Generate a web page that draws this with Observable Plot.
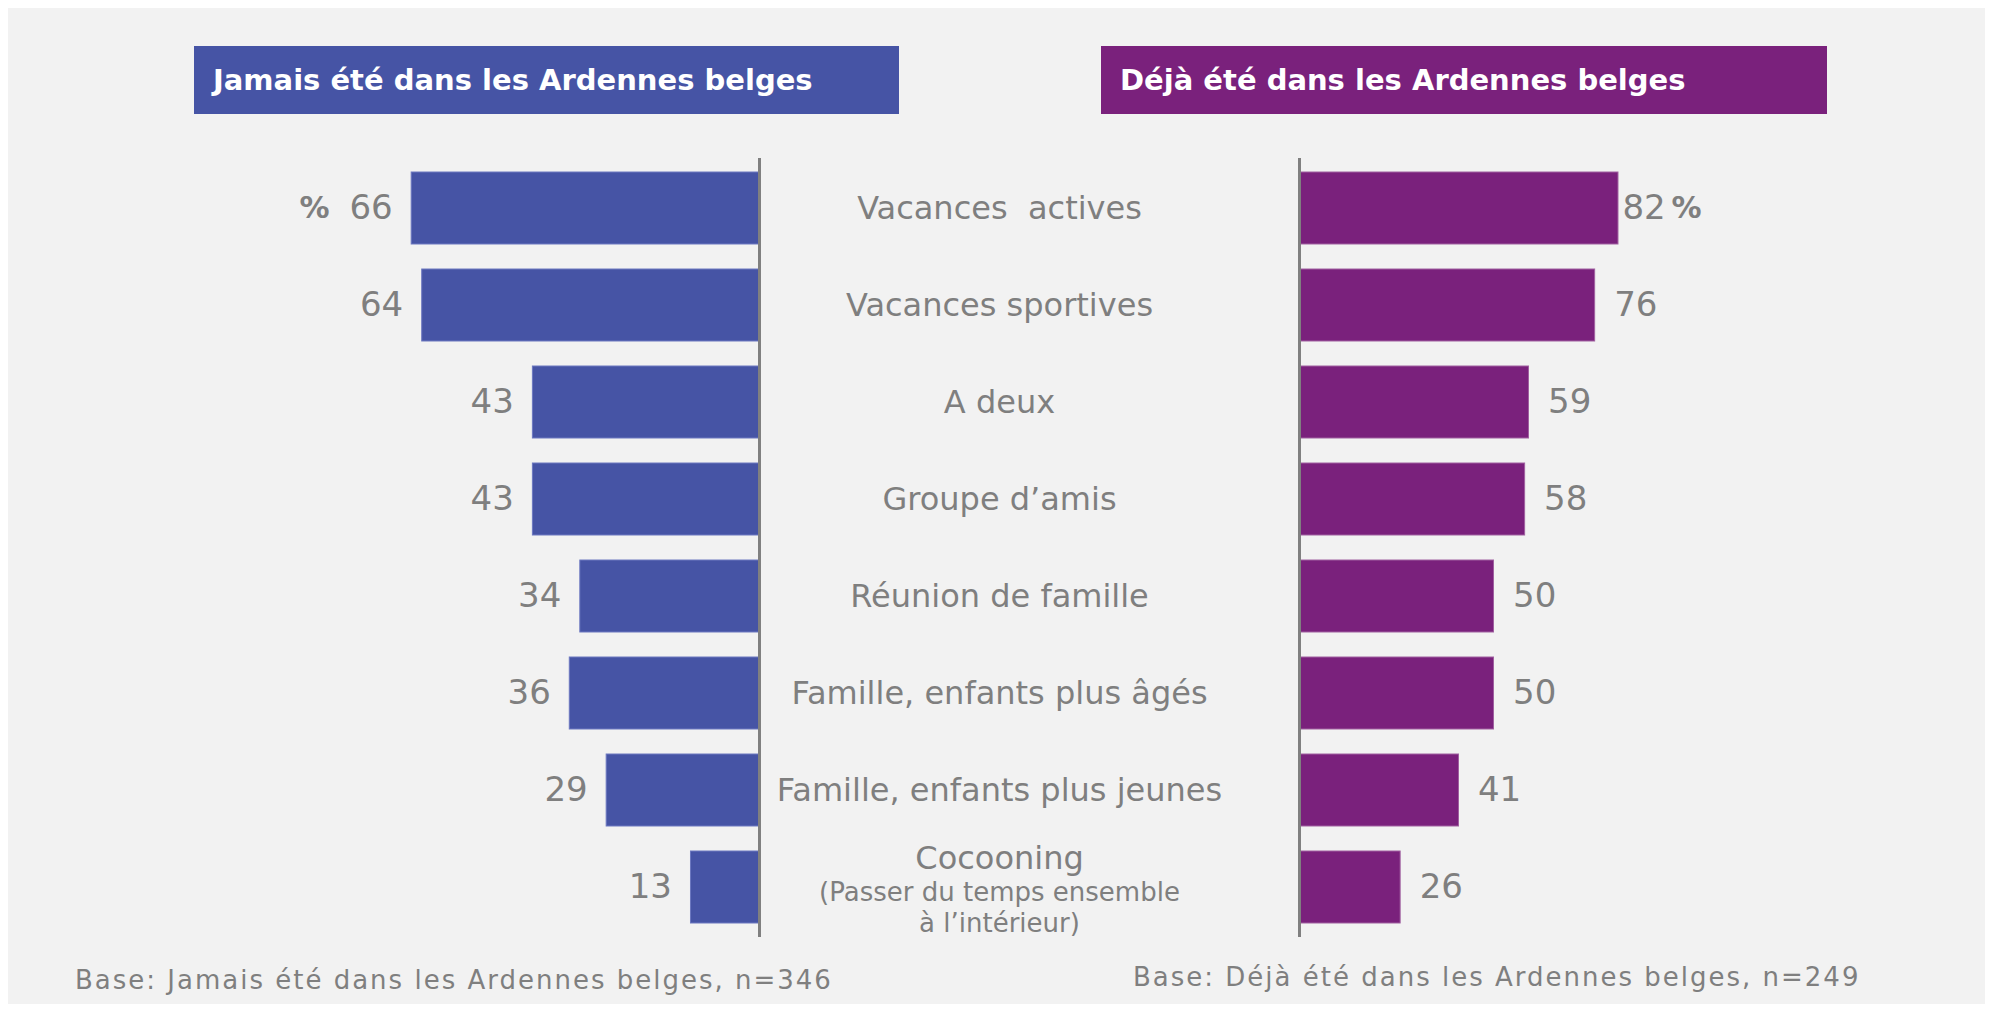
<!DOCTYPE html>
<html><head><meta charset="utf-8">
<script src="https://cdn.jsdelivr.net/npm/d3@7"></script>
<script src="https://cdn.jsdelivr.net/npm/@observablehq/plot@0.6"></script>
<style>
body{margin:0;background:#fff;}
#wrap{position:relative;width:1993px;height:1011px;overflow:hidden;background:#fff;}
#panel{position:absolute;left:8px;top:8px;width:1977px;height:996px;background:#f2f2f2;}
.title{position:absolute;top:46px;height:68px;color:#fff;font-family:"DejaVu Sans",sans-serif;font-weight:bold;font-size:29px;display:flex;align-items:center;box-sizing:border-box;padding-left:19px;}
.foot{position:absolute;color:#7f7f7f;font-family:"DejaVu Sans",sans-serif;font-size:26px;letter-spacing:2px;white-space:nowrap;}
.plot{position:absolute;left:0;top:0;}
svg text{white-space:pre;}
</style></head>
<body><div id="wrap"><div id="panel"></div></div>
<script>
const categories = ["Vacances  actives","Vacances sportives","A deux","Groupe d’amis","Réunion de famille","Famille, enfants plus âgés","Famille, enfants plus jeunes","Cocooning"];
const jamais = [66,64,43,43,34,36,29,13];
const deja = [82,76,59,58,50,50,41,26];
const cocooningNote = "(Passer du temps ensemble\nà l’intérieur)";
const titles = ["Jamais été dans les Ardennes belges","Déjà été dans les Ardennes belges"];
const footnotes = ["Base: Jamais été dans les Ardennes belges, n=346","Base: Déjà été dans les Ardennes belges, n=249"];
const colors = ["#4654a5","#7a217c"];

const rows = categories.map((c,i)=>({cat:c, jamais:jamais[i], deja:deja[i]}));
const wrap = document.getElementById("wrap");
const font = "DejaVu Sans, sans-serif";
const gray = "#7f7f7f";

const common = {
  width:1993, height:1011, marginTop:158, marginBottom:74,
  y:{domain:categories, paddingInner:0.26, paddingOuter:0.13, axis:null},
  style:{background:"transparent", overflow:"visible", fontFamily:font}
};

const left = Plot.plot({
  ...common,
  marginLeft:232, marginRight:1234,
  x:{domain:[0,100], reverse:true, axis:null},
  marks:[
    Plot.barX(rows,{x:"jamais", y:"cat", fill:colors[0], stroke:"#6c78c0", strokeWidth:1}),
    Plot.ruleX([0],{stroke:"#808080", strokeWidth:3}),
    Plot.text(rows,{x:"jamais", y:"cat", text:d=>String(d.jamais), textAnchor:"end", dx:-19, fontSize:34, fill:gray}),
    Plot.text(rows.slice(0,1),{x:"jamais", y:"cat", text:()=>"%", textAnchor:"end", dx:-82, fontSize:30, fontWeight:"bold", fill:gray}),
    Plot.text(rows.slice(0,7),{x:()=>0, y:"cat", text:"cat", textAnchor:"middle", dx:240, fontSize:32, fill:gray}),
    Plot.text(rows.slice(7),{x:()=>0, y:"cat", text:"cat", textAnchor:"middle", dx:240, dy:-29, fontSize:32, fill:gray}),
    Plot.text(rows.slice(7),{x:()=>0, y:"cat", text:()=>cocooningNote, textAnchor:"middle", dx:240, dy:19, fontSize:26, lineHeight:1.19, fill:gray})
  ]
});
left.classList.add("plot");
wrap.appendChild(left);

const right = Plot.plot({
  ...common,
  marginLeft:1299, marginRight:305,
  x:{domain:[0,100], axis:null},
  marks:[
    Plot.barX(rows,{x:"deja", y:"cat", fill:colors[1], stroke:"#a060a0", strokeWidth:1}),
    Plot.ruleX([0],{stroke:"#808080", strokeWidth:3}),
    Plot.text(rows.slice(1),{x:"deja", y:"cat", text:d=>String(d.deja), textAnchor:"start", dx:19, fontSize:34, fill:gray}),
    Plot.text(rows.slice(0,1),{x:"deja", y:"cat", text:d=>String(d.deja), textAnchor:"start", dx:4, fontSize:34, fill:gray}),
    Plot.text(rows.slice(0,1),{x:"deja", y:"cat", text:()=>"%", textAnchor:"start", dx:53, fontSize:30, fontWeight:"bold", fill:gray})
  ]
});
right.classList.add("plot");
wrap.appendChild(right);

// titles
[[194,705],[1101,726]].forEach(([x,w],i)=>{
  const d=document.createElement("div");
  d.className="title"; d.style.left=x+"px"; d.style.width=w+"px"; d.style.background=colors[i];
  d.textContent=titles[i]; wrap.appendChild(d);
});
// footnotes
[[75,965],[1133,962]].forEach(([x,y],i)=>{
  const d=document.createElement("div");
  d.className="foot"; d.style.left=x+"px"; d.style.top=y+"px";
  d.textContent=footnotes[i]; wrap.appendChild(d);
});
</script></body></html>
